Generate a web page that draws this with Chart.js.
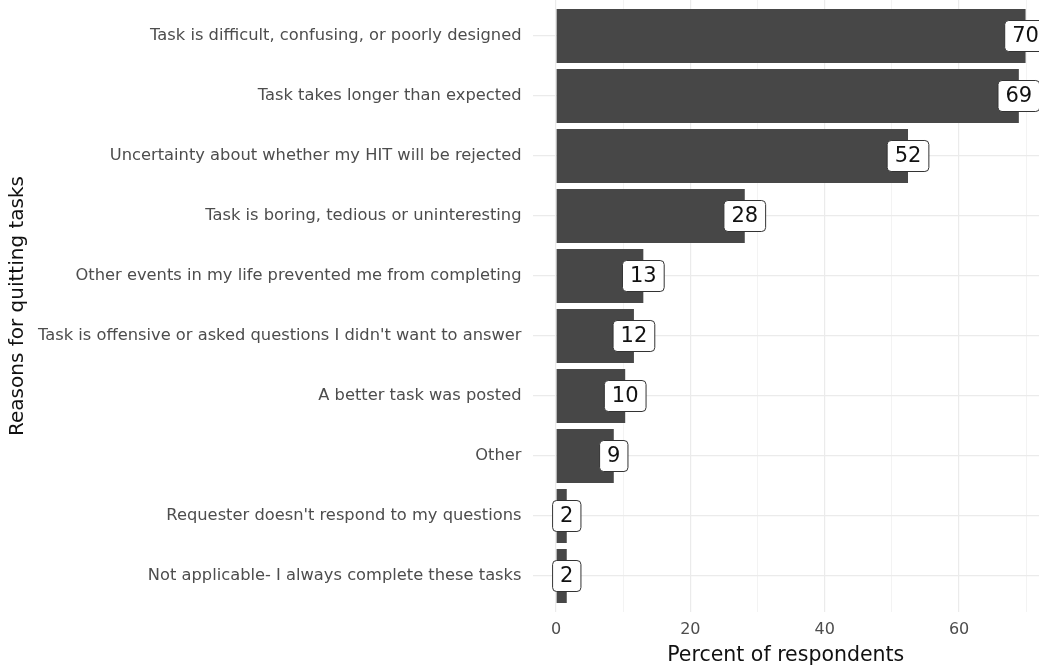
<!DOCTYPE html>
<html>
<head>
<meta charset="utf-8">
<script src="https://cdn.jsdelivr.net/npm/chart.js@4/dist/chart.umd.min.js"></script>
<style>
html,body{margin:0;padding:0;background:#fff;}
#wrap{width:1039px;height:669px;position:relative;}
</style>
</head>
<body>
<div id="wrap"><canvas id="c" width="1039" height="669"></canvas></div>
<script>
const categories = [
  "Task is difficult, confusing, or poorly designed",
  "Task takes longer than expected",
  "Uncertainty about whether my HIT will be rejected",
  "Task is boring, tedious or uninteresting",
  "Other events in my life prevented me from completing",
  "Task is offensive or asked questions I didn't want to answer",
  "A better task was posted",
  "Other",
  "Requester doesn't respond to my questions",
  "Not applicable- I always complete these tasks"
];
const percents = [69.9, 68.9, 52.4, 28.1, 13.0, 11.6, 10.3, 8.6, 1.6, 1.6];
const labelText = ["70", "69", "52", "28", "13", "12", "10", "9", "2", "2"];
const xTicks = [0, 10, 20, 30, 40, 50, 60, 70];

const FONT = "'DejaVu Sans', 'Liberation Sans', Arial, sans-serif";

const labelPlugin = {
  id: 'boxLabels',
  afterDatasetsDraw(chart) {
    const ctx = chart.ctx;
    const xs = chart.scales.x, ys = chart.scales.y;
    ctx.save();
    ctx.font = "21px " + FONT;
    ctx.textAlign = 'center';
    ctx.textBaseline = 'middle';
    percents.forEach((v, i) => {
      const x = xs.getPixelForValue(v);
      const y = ys.getPixelForValue(i);
      const t = labelText[i];
      const tw = ctx.measureText(t).width;
      const w = tw + 15, h = 31, r = 4;
      const lx = x - w / 2, ly = y - h / 2;
      ctx.beginPath();
      ctx.roundRect(lx, ly, w, h, r);
      ctx.fillStyle = '#ffffff';
      ctx.fill();
      ctx.lineWidth = 1;
      ctx.strokeStyle = '#333333';
      ctx.stroke();
      ctx.fillStyle = '#111111';
      ctx.fillText(t, x, y + 1);
    });
    ctx.restore();
  }
};

new Chart(document.getElementById('c'), {
  type: 'bar',
  data: {
    datasets: [{
      data: percents.map((v, i) => ({ x: v, y: i })),
      backgroundColor: '#474747',
      borderWidth: 0,
      barPercentage: 0.9,
      categoryPercentage: 1.0
    }]
  },
  options: {
    indexAxis: 'y',
    responsive: false,
    animation: false,
    devicePixelRatio: 1,
    layout: { padding: { left: 0, right: 0, top: 0, bottom: 0 } },
    plugins: { legend: { display: false }, tooltip: { enabled: false } },
    scales: {
      x: {
        type: 'linear',
        min: -3.5,
        max: 71.9,
        offset: false,
        afterBuildTicks: s => { s.ticks = xTicks.map(v => ({ value: v })); },
        afterFit: s => { s.height = 57; s.paddingLeft = 0; s.paddingRight = 0; },
        border: { display: false },
        grid: {
          offset: false,
          drawTicks: false,
          color: '#ebebeb',
          lineWidth: c => (c.tick && c.tick.value % 20 === 0) ? 1.2 : 0.6
        },
        ticks: {
          padding: 8,
          color: '#4d4d4d',
          font: { family: FONT, size: 16 },
          callback: v => (v % 20 === 0 ? String(v) : '')
        },
        title: {
          display: true,
          text: 'Percent of respondents',
          color: '#111111',
          font: { family: FONT, size: 20.5 },
          padding: { top: 0, bottom: 1 }
        }
      },
      y: {
        type: 'linear',
        min: -0.6,
        max: 9.6,
        reverse: true,
        offset: false,
        afterBuildTicks: s => { s.ticks = categories.map((_, i) => ({ value: i })); },
        afterFit: s => { s.width = 532.5; s.paddingTop = 0; s.paddingBottom = 0; },
        border: { display: false },
        grid: { offset: false, drawTicks: false, color: '#ebebeb', lineWidth: 1.2 },
        ticks: {
          padding: 11,
          color: '#4d4d4d',
          font: { family: FONT, size: 16.3 },
          autoSkip: false,
          callback: v => categories[v]
        },
        title: {
          display: true,
          text: 'Reasons for quitting tasks',
          color: '#111111',
          font: { family: FONT, size: 20 },
          padding: { top: 6, bottom: 0 }
        }
      }
    }
  },
  plugins: [labelPlugin]
});
</script>
</body>
</html>
